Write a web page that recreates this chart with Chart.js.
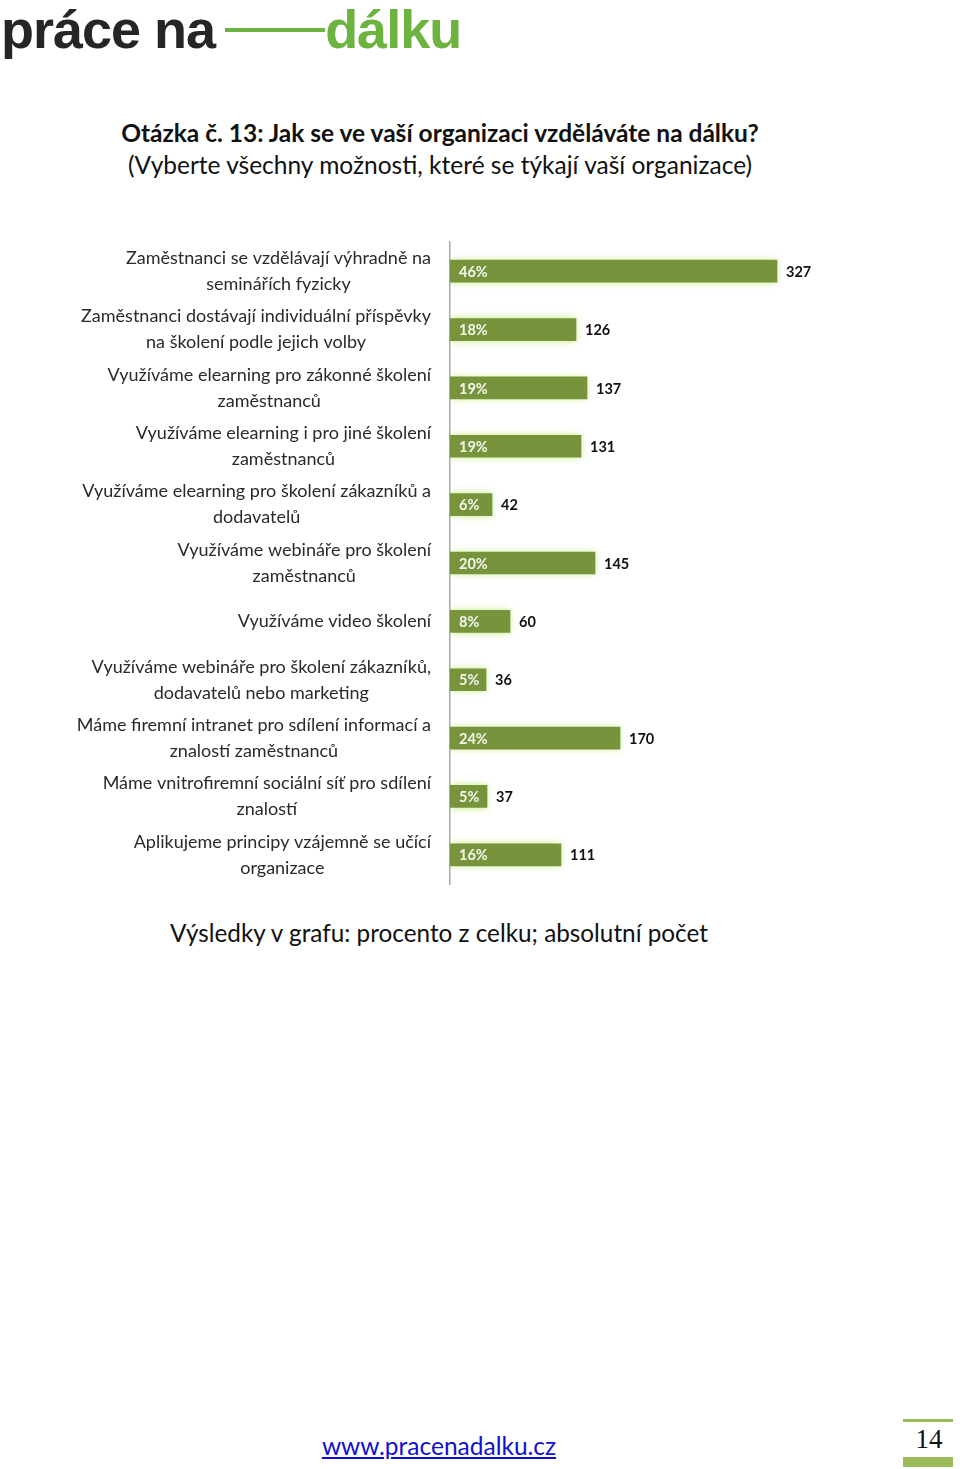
<!DOCTYPE html>
<html lang="cs">
<head>
<meta charset="utf-8">
<title>Otázka č. 13</title>
<script src="https://cdn.jsdelivr.net/npm/chart.js@4/dist/chart.umd.min.js"></script>
<style>
  html, body { margin: 0; padding: 0; background: #fff; }
  body { width: 960px; height: 1469px; position: relative; overflow: hidden; font-family: Lato, "Open Sans", sans-serif; }
  .logo { position: absolute; left: 1px; top: -2px; font-family: "Liberation Sans", Arial, sans-serif; font-weight: bold; font-size: 54px; letter-spacing: -1px; white-space: nowrap; }
  .logo .dark { color: #262626; }
  .logo .green { color: #6cb43f; }
  .logo .line { display: inline-block; width: 100px; height: 4px; background: #6cb43f; vertical-align: middle; margin: 0 0 0 10px; position: relative; top: -4px; }
  .title { position: absolute; left: 0; width: 880px; text-align: center; color: #111; }
  #t1 { top: 118px; font-size: 24.5px; font-weight: bold; }
  #t2 { top: 150px; font-size: 24.5px; }
  #chartBox { position: absolute; left: 60px; top: 236px; width: 840px; height: 654px; }
  #caption { position: absolute; left: 0; width: 878px; top: 918px; text-align: center; font-size: 24.3px; color: #111; }
  #link { position: absolute; left: 0; width: 878px; top: 1431px; text-align: center; font-size: 24.5px; }
  #link a { color: #1010d0; }
  .pg-line { position: absolute; left: 903px; width: 50px; background: #9bbb59; }
  #pageNo { position: absolute; left: 903px; width: 52px; top: 1424px; text-align: center; font-family: "Liberation Serif", "DejaVu Serif", serif; font-size: 27px; color: #111; }
</style>
</head>
<body>
<div class="logo"><span class="dark">práce na</span><span class="line"></span><span class="green">dálku</span></div>

<div class="title" id="t1">Otázka č. 13: Jak se ve vaší organizaci vzděláváte na dálku?</div>
<div class="title" id="t2">(Vyberte všechny možnosti, které se týkají vaší organizace)</div>

<div id="chartBox"><canvas id="trainingChart"></canvas></div>

<div id="caption">Výsledky v grafu: procento z celku; absolutní počet</div>

<div id="link"><a href="#">www.pracenadalku.cz</a></div>
<div class="pg-line" style="top:1419px;height:3px;"></div>
<div id="pageNo">14</div>
<div class="pg-line" style="top:1457px;height:10px;"></div>

<script>
const categories = [
  ["Zaměstnanci se vzdělávají výhradně na", "seminářích fyzicky"],
  ["Zaměstnanci dostávají individuální příspěvky", "na školení podle jejich volby"],
  ["Využíváme elearning pro zákonné školení", "zaměstnanců"],
  ["Využíváme elearning i pro jiné školení", "zaměstnanců"],
  ["Využíváme elearning pro školení zákazníků a", "dodavatelů"],
  ["Využíváme webináře pro školení", "zaměstnanců"],
  ["Využíváme video školení"],
  ["Využíváme webináře pro školení zákazníků,", "dodavatelů nebo marketing"],
  ["Máme firemní intranet pro sdílení informací a", "znalostí zaměstnanců"],
  ["Máme vnitrofiremní sociální síť pro sdílení", "znalostí"],
  ["Aplikujeme principy vzájemně se učící", "organizace"]
];
const counts = [327, 126, 137, 131, 42, 145, 60, 36, 170, 37, 111];
const percents = [46, 18, 19, 19, 6, 20, 8, 5, 24, 5, 16];

const barColor = "#77933c";
const labelFont = "18px Lato, 'Open Sans', sans-serif";

// glow round the bars
const glowPlugin = {
  id: "glow",
  beforeDatasetsDraw(chart) {
    const ctx = chart.ctx;
    ctx.save();
    ctx.shadowColor = "rgba(190, 235, 120, 0.95)";
    ctx.shadowBlur = 7;
  },
  afterDatasetsDraw(chart) {
    chart.ctx.restore();
  }
};

// category labels: lines centred on each other, block right aligned
const categoryLabels = {
  id: "categoryLabels",
  afterDraw(chart) {
    const ctx = chart.ctx;
    const yScale = chart.scales.y;
    const right = yScale.right - 19;
    const lineH = 26;
    ctx.save();
    ctx.font = labelFont;
    ctx.fillStyle = "#2a2a2a";
    ctx.textAlign = "center";
    ctx.textBaseline = "middle";
    categories.forEach((lines, i) => {
      const y = yScale.getPixelForTick(i);
      const w = Math.max(...lines.map((l) => ctx.measureText(l).width));
      const cx = right - w / 2;
      const top = y - ((lines.length - 1) * lineH) / 2;
      lines.forEach((l, j) => ctx.fillText(l, cx, top + j * lineH));
    });
    ctx.restore();
  }
};

// percentage inside the bar, count after it
const valueLabels = {
  id: "valueLabels",
  afterDatasetsDraw(chart) {
    const ctx = chart.ctx;
    const meta = chart.getDatasetMeta(0);
    ctx.save();
    ctx.font = "bold 14.5px Lato, 'Open Sans', sans-serif";
    ctx.textBaseline = "middle";
    ctx.textAlign = "left";
    meta.data.forEach((bar, i) => {
      ctx.fillStyle = "#f4f7ee";
      ctx.fillText(percents[i] + "%", bar.base + 9, bar.y + 1);
      ctx.fillStyle = "#111";
      ctx.fillText(String(counts[i]), bar.x + 9, bar.y + 1);
    });
    ctx.restore();
  }
};

new Chart(document.getElementById("trainingChart"), {
  type: "bar",
  data: {
    labels: categories,
    datasets: [
      {
        data: counts,
        backgroundColor: barColor,
        borderWidth: 0,
        barThickness: 22
      }
    ]
  },
  options: {
    indexAxis: "y",
    responsive: true,
    maintainAspectRatio: false,
    animation: false,
    layout: { padding: { top: 6, bottom: 6, right: 0, left: 0 } },
    plugins: {
      legend: { display: false },
      tooltip: { enabled: false }
    },
    scales: {
      x: { display: false, min: 0, max: 450 },
      y: {
        grid: { display: false, drawTicks: false },
        border: { display: true, color: "#a8a8a8", width: 1.5 },
        ticks: { display: false },
        afterFit(scale) {
          scale.width = 390;
        }
      }
    }
  },
  plugins: [glowPlugin, valueLabels, categoryLabels]
});
</script>
</body>
</html>
